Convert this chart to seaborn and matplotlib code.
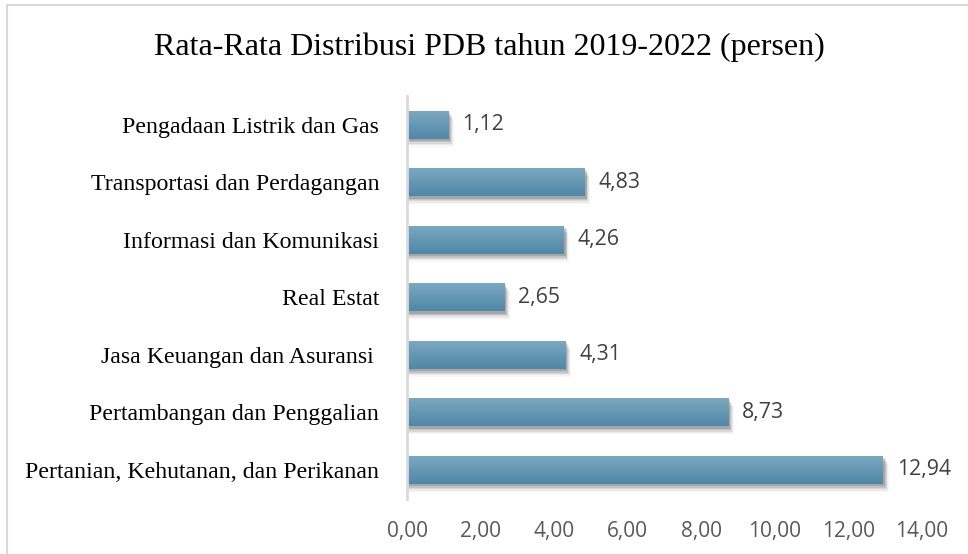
import numpy as np
import pandas as pd
import matplotlib
matplotlib.use("Agg")
import matplotlib.pyplot as plt
import matplotlib.patches as mpatches
from matplotlib.colors import LinearSegmentedColormap
import seaborn as sns

categories = [
    "Pengadaan Listrik dan Gas",
    "Transportasi dan Perdagangan",
    "Informasi dan Komunikasi",
    "Real Estat",
    "Jasa Keuangan dan Asuransi ",
    "Pertambangan dan Penggalian",
    "Pertanian, Kehutanan, dan Perikanan",
]
values = [1.12, 4.83, 4.26, 2.65, 4.31, 8.73, 12.94]
xticks = [0, 2, 4, 6, 8, 10, 12, 14]
title = "Rata-Rata Distribusi PDB tahun 2019-2022 (persen)"

df = pd.DataFrame({"kategori": categories, "nilai": values})

sns.set_theme(style="white")
plt.rcParams["font.family"] = ["Liberation Serif", "DejaVu Serif"]

fig = plt.figure(figsize=(9.68, 5.54), dpi=100)
fig.patch.set_facecolor("white")
ax = fig.add_axes([0.4205, 0.100, 0.532, 0.727])

sns.barplot(data=df, x="nilai", y="kategori", orient="h", color="#6497B4",
            width=0.49, ax=ax, saturation=1, zorder=3, linewidth=0, edgecolor="none")

ax.set_xlim(0, 14)
ax.set_ylim(len(categories) - 0.5, -0.5)

grad = np.linspace(0, 1, 100).reshape(-1, 1)
cmap = LinearSegmentedColormap.from_list("g", ["#7DA9C2", "#4F87A7"])
for p in list(ax.patches):
    x0, y0 = p.get_x(), p.get_y()
    w, h = p.get_width(), p.get_height()
    # soft shadow (below and slightly right)
    for i, a in enumerate([0.14, 0.10, 0.07, 0.05, 0.03]):
        dx = 0.03 + 0.025 * i
        dy = 0.04 + 0.025 * i
        sh = mpatches.Rectangle((x0 + 0.02, y0 + dy), w + dx, h,
                                facecolor="black", alpha=a, edgecolor="none", zorder=2)
        ax.add_patch(sh)
    im = ax.imshow(grad, extent=[x0, x0 + w, y0 + h, y0], cmap=cmap, aspect="auto",
                   zorder=4, interpolation="bilinear")
    im.set_clip_path(p)
    ax.text(w + 0.38, y0 + h / 2, f"{w:.2f}".replace(".", ","), va="center",
            ha="left", fontsize=15.3, color="#404040",
            family=["Open Sans", "DejaVu Sans"])

ax.set_xlim(0, 14)
ax.set_ylim(len(categories) - 0.5, -0.5)
ax.set_xticks(xticks)
ax.set_xticklabels([f"{t:.2f}".replace(".", ",") for t in xticks],
                   family=["Open Sans", "DejaVu Sans"], fontsize=15, color="#595959")
ax.tick_params(axis="x", length=0, pad=16)
ax.tick_params(axis="y", length=0, pad=20)
for lab in ax.get_yticklabels():
    lab.set_fontsize(17.2)
    lab.set_color("black")
ax.set_xlabel("")
ax.set_ylabel("")
for s in ["top", "right", "bottom"]:
    ax.spines[s].set_visible(False)
ax.spines["left"].set_color("#D9D9D9")
ax.spines["left"].set_linewidth(2)
ax.spines["left"].set_zorder(5)
ax.grid(False)

fig.text(0.506, 0.915, title, ha="center", va="center", fontsize=23, color="black")

border = mpatches.Rectangle((7 / 968, -0.1), 1.2, 1 - 5 / 554 + 0.1,
                            transform=fig.transFigure, fill=False,
                            edgecolor="#D9D9D9", linewidth=1.5)
fig.patches.append(border)

fig.savefig("out.png", dpi=100)
